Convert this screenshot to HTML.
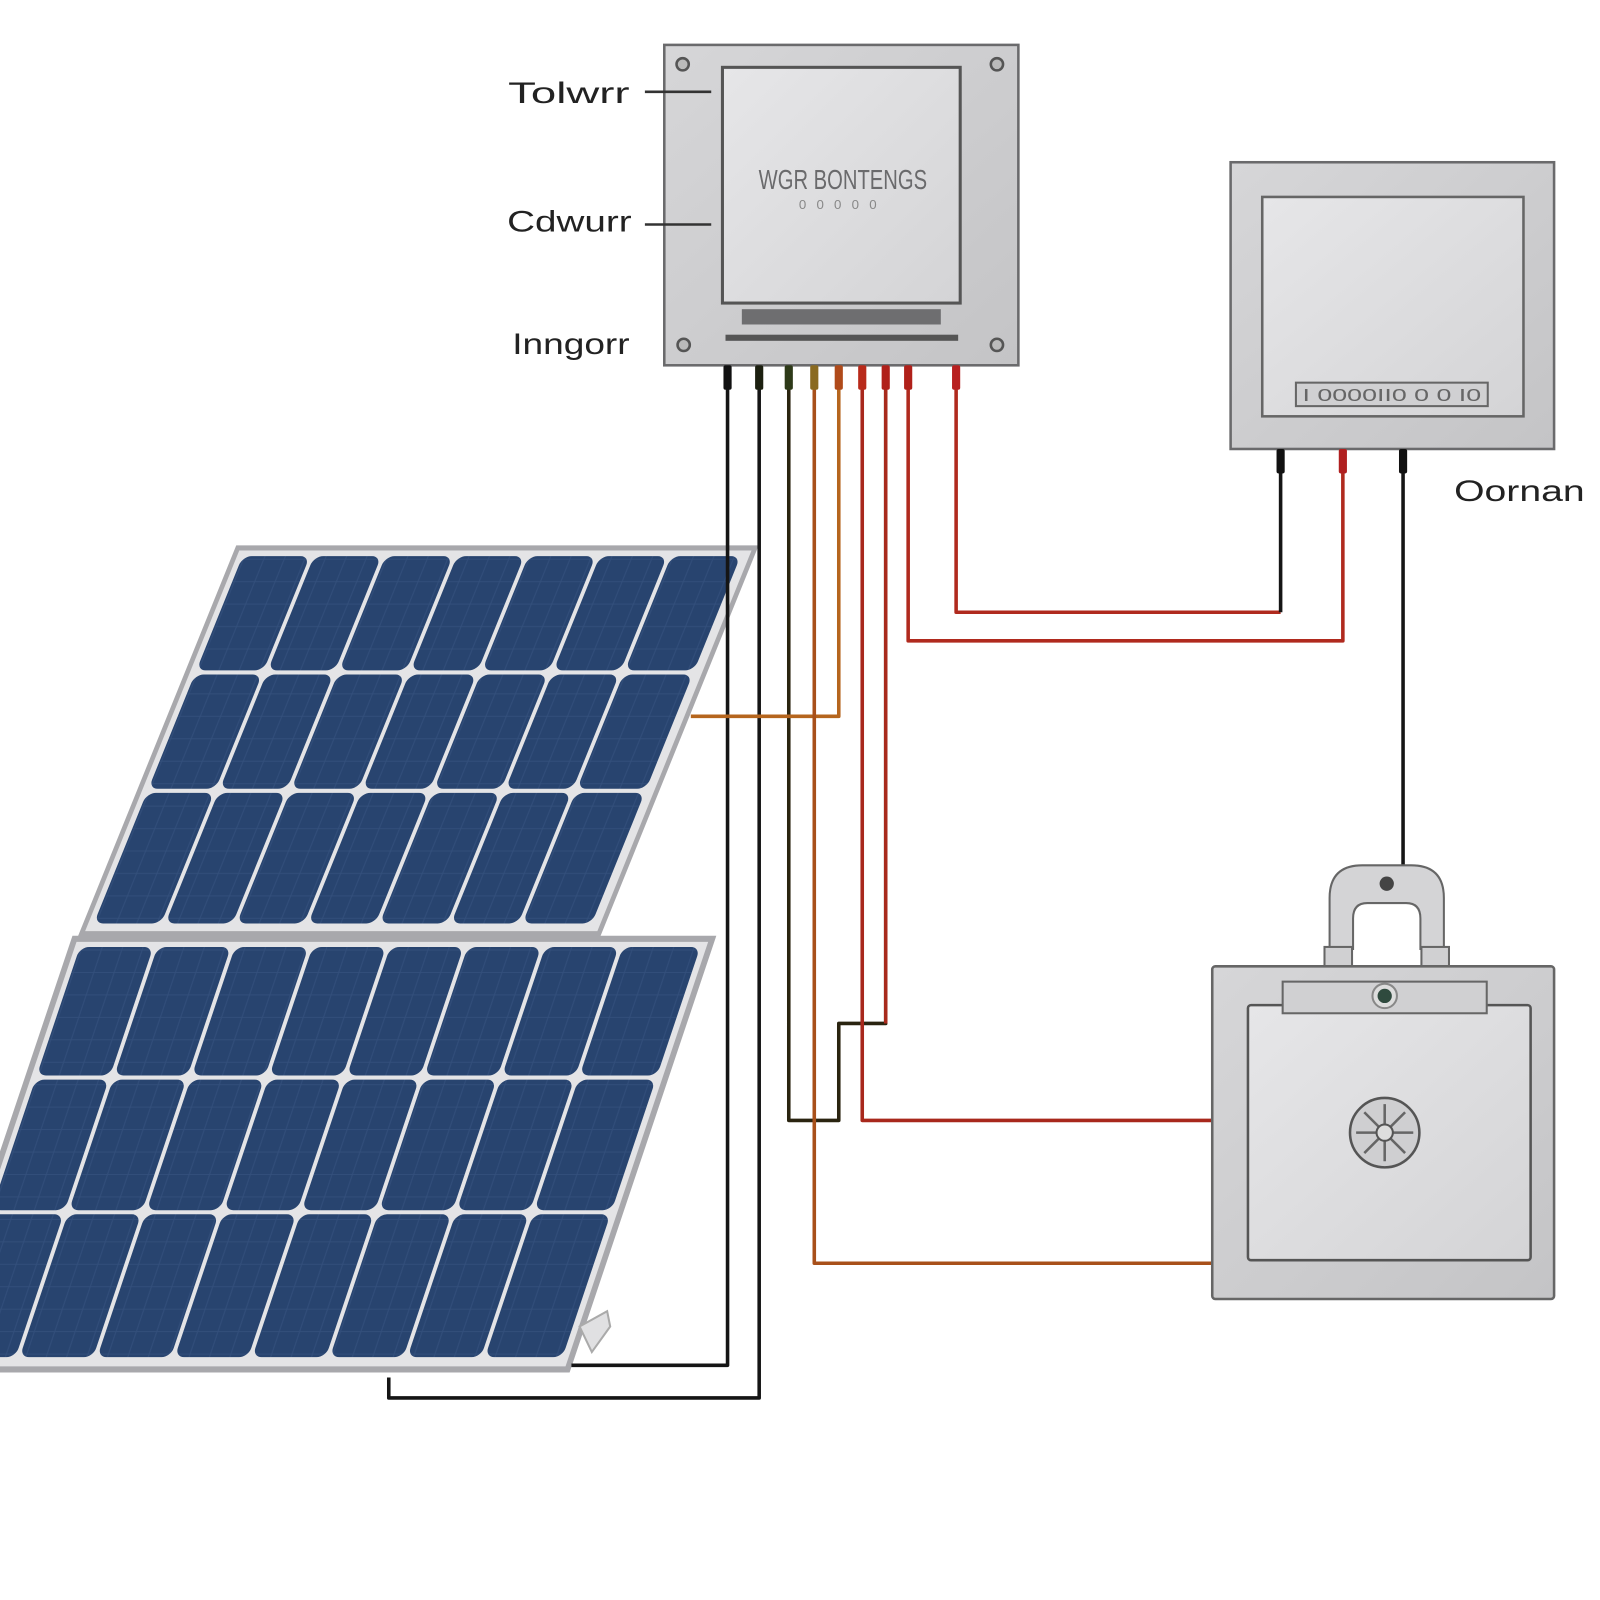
<!DOCTYPE html>
<html><head><meta charset="utf-8"><style>html,body{margin:0;padding:0;background:#fff}svg{display:block}</style></head>
<body>
<svg width="1600" height="1600" viewBox="0 0 1568 1568" xmlns="http://www.w3.org/2000/svg" font-family="Liberation Sans, sans-serif">
<defs>
<linearGradient id="g1" x1="0" y1="0" x2="1" y2="1"><stop offset="0" stop-color="#d6d6d8"/><stop offset="1" stop-color="#c4c4c6"/></linearGradient>
<linearGradient id="g2" x1="0" y1="0" x2="1" y2="1"><stop offset="0" stop-color="#e6e6e8"/><stop offset="1" stop-color="#d4d4d6"/></linearGradient>
<pattern id="cellp" width="20" height="22" patternUnits="userSpaceOnUse"><rect width="20" height="22" fill="#28446f"/><path d="M0 11H20M10 0V22" stroke="#3a5784" stroke-width="1" opacity=".6"/></pattern>
</defs>
<rect width="1568" height="1568" fill="#fff"/>

<!-- upper solar panel -->
<g transform="matrix(1,0,-0.405,1,233,537)">
<rect x="0" y="0" width="507" height="378" fill="#e4e4e6" stroke="#a8a8ac" stroke-width="5"/>
<g fill="url(#cellp)">
<rect x="8" y="8" width="66" height="112" rx="9"/><rect x="78" y="8" width="66" height="112" rx="9"/><rect x="148" y="8" width="66" height="112" rx="9"/><rect x="218" y="8" width="66" height="112" rx="9"/><rect x="288" y="8" width="66" height="112" rx="9"/><rect x="358" y="8" width="66" height="112" rx="9"/><rect x="428" y="8" width="68" height="112" rx="9"/>
<rect x="8" y="124" width="66" height="112" rx="9"/><rect x="78" y="124" width="66" height="112" rx="9"/><rect x="148" y="124" width="66" height="112" rx="9"/><rect x="218" y="124" width="66" height="112" rx="9"/><rect x="288" y="124" width="66" height="112" rx="9"/><rect x="358" y="124" width="66" height="112" rx="9"/><rect x="428" y="124" width="68" height="112" rx="9"/>
<rect x="8" y="240" width="66" height="128" rx="9"/><rect x="78" y="240" width="66" height="128" rx="9"/><rect x="148" y="240" width="66" height="128" rx="9"/><rect x="218" y="240" width="66" height="128" rx="9"/><rect x="288" y="240" width="66" height="128" rx="9"/><rect x="358" y="240" width="66" height="128" rx="9"/><rect x="428" y="240" width="68" height="128" rx="9"/>
</g></g>

<!-- lower solar panel -->
<g transform="matrix(1,0,-0.336,1,73,920)">
<rect x="0" y="0" width="625" height="422" fill="#e4e4e6" stroke="#a8a8ac" stroke-width="6"/>
<g fill="url(#cellp)">
<rect x="8" y="8" width="72" height="126" rx="9"/><rect x="84" y="8" width="72" height="126" rx="9"/><rect x="160" y="8" width="72" height="126" rx="9"/><rect x="236" y="8" width="72" height="126" rx="9"/><rect x="312" y="8" width="72" height="126" rx="9"/><rect x="388" y="8" width="72" height="126" rx="9"/><rect x="464" y="8" width="72" height="126" rx="9"/><rect x="540" y="8" width="76" height="126" rx="9"/>
<rect x="8" y="138" width="72" height="128" rx="9"/><rect x="84" y="138" width="72" height="128" rx="9"/><rect x="160" y="138" width="72" height="128" rx="9"/><rect x="236" y="138" width="72" height="128" rx="9"/><rect x="312" y="138" width="72" height="128" rx="9"/><rect x="388" y="138" width="72" height="128" rx="9"/><rect x="464" y="138" width="72" height="128" rx="9"/><rect x="540" y="138" width="76" height="128" rx="9"/>
<rect x="8" y="270" width="72" height="140" rx="9"/><rect x="84" y="270" width="72" height="140" rx="9"/><rect x="160" y="270" width="72" height="140" rx="9"/><rect x="236" y="270" width="72" height="140" rx="9"/><rect x="312" y="270" width="72" height="140" rx="9"/><rect x="388" y="270" width="72" height="140" rx="9"/><rect x="464" y="270" width="72" height="140" rx="9"/><rect x="540" y="270" width="76" height="140" rx="9"/>
</g></g>
<path d="M568 1300 L595 1285 L598 1300 L580 1325 Z" fill="#e0e0e2" stroke="#aaa" stroke-width="2"/>

<!-- wires -->
<g fill="none" stroke-width="3.5" stroke-linejoin="round">
<path d="M713 370 V1338 H560" stroke="#151515"/>
<path d="M744 370 V1370 H381 V1350" stroke="#151515"/>
<path d="M773 370 V1098 H822 V1003 H868 V370" stroke="#2a2410"/>
<path d="M822 370 V702 H677" stroke="#b5651d"/>
<path d="M798 370 V1238 H1190" stroke="#a8501a"/>
<path d="M845 370 V1098 H1188" stroke="#a8281c"/>
<path d="M868 370 V1003" stroke="#a82a1c"/>
<path d="M890 370 V628 H1316 V460" stroke="#b02a1e"/>
<path d="M937 370 V600 H1255" stroke="#b02a1e"/>
<path d="M1255 600 V460" stroke="#151515"/>
<path d="M1375 460 V848" stroke="#151515"/>
</g>

<!-- top controller box -->
<rect x="651" y="44" width="347" height="314" fill="url(#g1)" stroke="#6a6a6c" stroke-width="2.5"/>
<rect x="708" y="66" width="233" height="231" fill="url(#g2)" stroke="#555" stroke-width="3"/>
<circle cx="669" cy="63" r="6" fill="#bbb" stroke="#555" stroke-width="2.5"/>
<circle cx="977" cy="63" r="6" fill="#bbb" stroke="#555" stroke-width="2.5"/>
<circle cx="670" cy="338" r="6" fill="#bbb" stroke="#555" stroke-width="2.5"/>
<circle cx="977" cy="338" r="6" fill="#bbb" stroke="#555" stroke-width="2.5"/>
<text x="826" y="185" text-anchor="middle" font-size="27" fill="#6a6a6c" textLength="165" lengthAdjust="spacingAndGlyphs">WGR BONTENGS</text>
<text x="826" y="205" text-anchor="middle" font-size="13" fill="#888" letter-spacing="10">00000</text>
<rect x="727" y="303" width="195" height="15" fill="#6e6e70"/>
<rect x="711" y="328" width="228" height="6" fill="#555"/>
<g><rect x="709" y="358" width="8" height="24" rx="2" fill="#111"/><rect x="740" y="358" width="8" height="24" rx="2" fill="#1c2010"/><rect x="769" y="358" width="8" height="24" rx="2" fill="#2e3a18"/><rect x="794" y="358" width="8" height="24" rx="2" fill="#8a6a20"/><rect x="818" y="358" width="8" height="24" rx="2" fill="#b04a1a"/><rect x="841" y="358" width="8" height="24" rx="2" fill="#b82a1a"/><rect x="864" y="358" width="8" height="24" rx="2" fill="#b0201a"/><rect x="886" y="358" width="8" height="24" rx="2" fill="#b0201a"/><rect x="933" y="358" width="8" height="24" rx="2" fill="#b82020"/></g>

<!-- labels -->
<g font-size="29" fill="#222">
<text x="498" y="101" textLength="119" lengthAdjust="spacingAndGlyphs">Tolwrr</text>
<text x="497" y="227" textLength="122" lengthAdjust="spacingAndGlyphs">Cdwurr</text>
<text x="502" y="347" textLength="115" lengthAdjust="spacingAndGlyphs">Inngorr</text>
<text x="1425" y="491" textLength="128" lengthAdjust="spacingAndGlyphs">Oornan</text>
</g>
<path d="M632 90 H697 M632 220 H697" stroke="#333" stroke-width="2.5"/>

<!-- right box -->
<rect x="1206" y="159" width="317" height="281" fill="url(#g1)" stroke="#6a6a6c" stroke-width="2.5"/>
<rect x="1237" y="193" width="256" height="215" fill="url(#g2)" stroke="#666" stroke-width="2.5"/>
<rect x="1270" y="375" width="188" height="23" fill="#d0d0d2" stroke="#666" stroke-width="2"/>
<text x="1364" y="393" text-anchor="middle" font-size="17" fill="#666" textLength="175" lengthAdjust="spacingAndGlyphs">I 0000II0 0 0 I0</text>
<rect x="1251" y="440" width="8" height="24" rx="2" fill="#111"/>
<rect x="1312" y="440" width="8" height="24" rx="2" fill="#b02020"/>
<rect x="1371" y="440" width="8" height="24" rx="2" fill="#111"/>

<!-- bottom right box -->
<path d="M1303 930 V880 Q1303 848 1335 848 H1383 Q1415 848 1415 880 V930 H1392 V900 Q1392 885 1378 885 H1340 Q1326 885 1326 900 V930 Z" fill="#d4d4d6" stroke="#666" stroke-width="2"/>
<circle cx="1359" cy="866" r="7" fill="#444"/>
<rect x="1298" y="928" width="27" height="20" fill="#d0d0d2" stroke="#666" stroke-width="2"/>
<rect x="1393" y="928" width="27" height="20" fill="#d0d0d2" stroke="#666" stroke-width="2"/>
<rect x="1188" y="947" width="335" height="326" rx="3" fill="url(#g1)" stroke="#666" stroke-width="2.5"/>
<rect x="1223" y="985" width="277" height="250" rx="3" fill="url(#g2)" stroke="#555" stroke-width="2.5"/>
<rect x="1257" y="962" width="200" height="31" fill="#d0d0d2" stroke="#666" stroke-width="2"/>
<circle cx="1357" cy="976" r="12" fill="#ddd" stroke="#888" stroke-width="2"/>
<circle cx="1357" cy="976" r="7" fill="#2f4a3e"/>
<circle cx="1357" cy="1110" r="34" fill="#cfcfd1" stroke="#555" stroke-width="2.5"/>
<g stroke="#666" stroke-width="2.5"><path d="M1357 1082V1138M1329 1110H1385M1337 1090L1377 1130M1377 1090L1337 1130"/></g>
<circle cx="1357" cy="1110" r="8" fill="#ddd" stroke="#555" stroke-width="2"/>
</svg>
</body></html>
